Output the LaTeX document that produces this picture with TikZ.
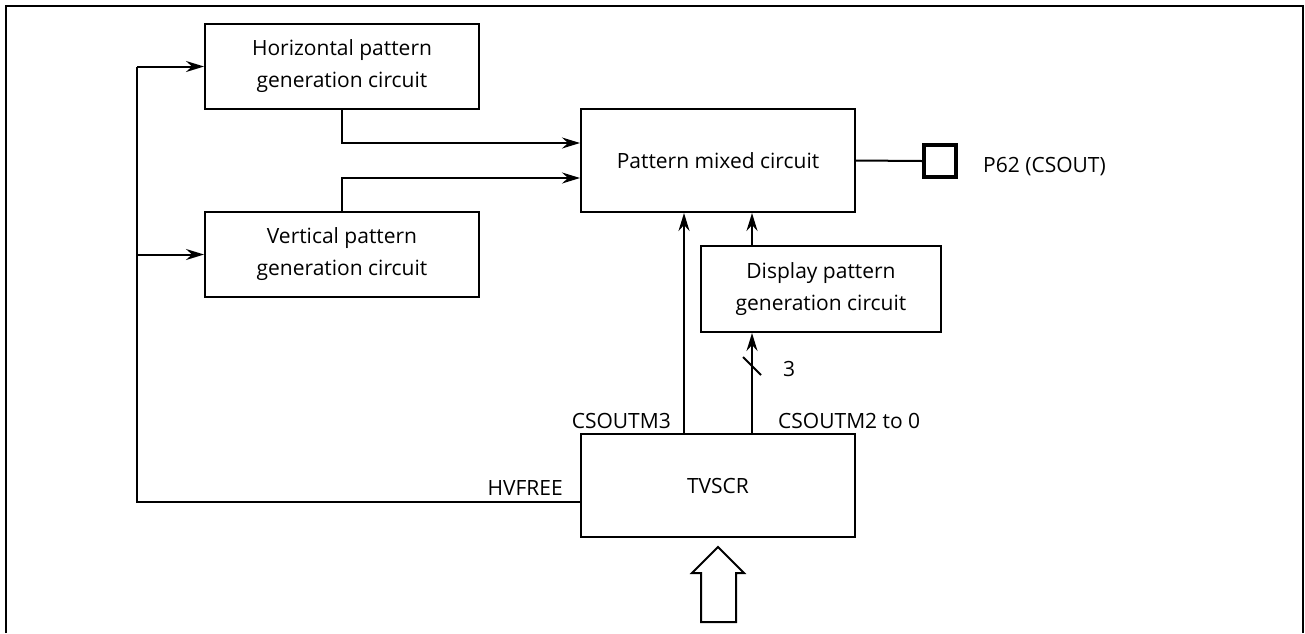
\documentclass[tikz,border=0pt]{standalone}
\usepackage{fontspec}
\setmainfont{Open Sans}
\usetikzlibrary{arrows.meta,calc}
\begin{document}
\begin{tikzpicture}[x=1pt,y=-1pt,
  every node/.style={font=\fontsize{21}{32}\selectfont},
  blk/.style={draw,line width=2pt,minimum width=274pt,minimum height=85pt,align=center,inner sep=0pt},
  lbl/.style={inner sep=0pt},
  conn/.style={line width=2pt},
  arr/.style={conn,-{Stealth[length=18pt,width=11pt,inset=6pt]}}]
\useasboundingbox (0,0) rectangle (1305,633);
\draw[line width=2.2pt] (6,633) -- (6,6) -- (1303,6) -- (1303,633);
% blocks
\node[blk] (hor) at (342,66.5) {Horizontal pattern\\generation circuit};
\node[blk] (ver) at (342,254.5) {Vertical pattern\\generation circuit};
\node[blk,minimum height=103pt] (mix) at (718,160.5) {Pattern mixed circuit};
\node[blk,minimum width=240pt,minimum height=86pt] (disp) at (821,289) {Display pattern\\generation circuit};
\node[blk,minimum height=103pt] (tv) at (718,485.5) {TVSCR};
\node[draw,line width=4pt,minimum size=32pt,inner sep=0pt] (pin) at (940,161) {};
\node[lbl,anchor=base west] (pinl) at (983,172) {P62 (CSOUT)};
% coordinates
\coordinate (hv) at (581,502);
\coordinate (bh) at (137,66.5);
\coordinate (bv) at (137,254.5);
\coordinate (c3) at (684,434);
\coordinate (c2) at (752,434);
% connectors
\draw[conn] (hv) -- (hv -| bh) -- (bh);
\draw[arr] (bh) -- (hor.west);
\draw[arr] (bv) -- (ver.west);
\draw[arr] (hor.south) |- ($(mix.west)+(0,-17.5)$);
\draw[arr] (ver.north) |- ($(mix.west)+(0,17.5)$);
\draw[conn] (mix.east) -- (pin.west);
\draw[arr] (c3) -- (c3 |- mix.south);
\draw[arr] (c2) -- (c2 |- disp.south);
\draw[arr] (disp.north -| c2) -- (c2 |- mix.south);
\draw[conn] (743,357) -- (761,375);
% labels
\node[lbl,anchor=base west] (n3) at (783,376) {3};
\node[lbl,anchor=base east] (lc3) at (671,428) {CSOUTM3};
\node[lbl,anchor=base west] (lc2) at (778,428) {CSOUTM2 to 0};
\node[lbl,anchor=base east] (lhv) at (563,495) {HVFREE};
% big hollow arrow
\draw[line width=2pt,line join=miter] (718,547) -- (744,573) -- (736,573) -- (736,622) -- (701,622) -- (701,573) -- (692,573) -- cycle;
\end{tikzpicture}
\end{document}
